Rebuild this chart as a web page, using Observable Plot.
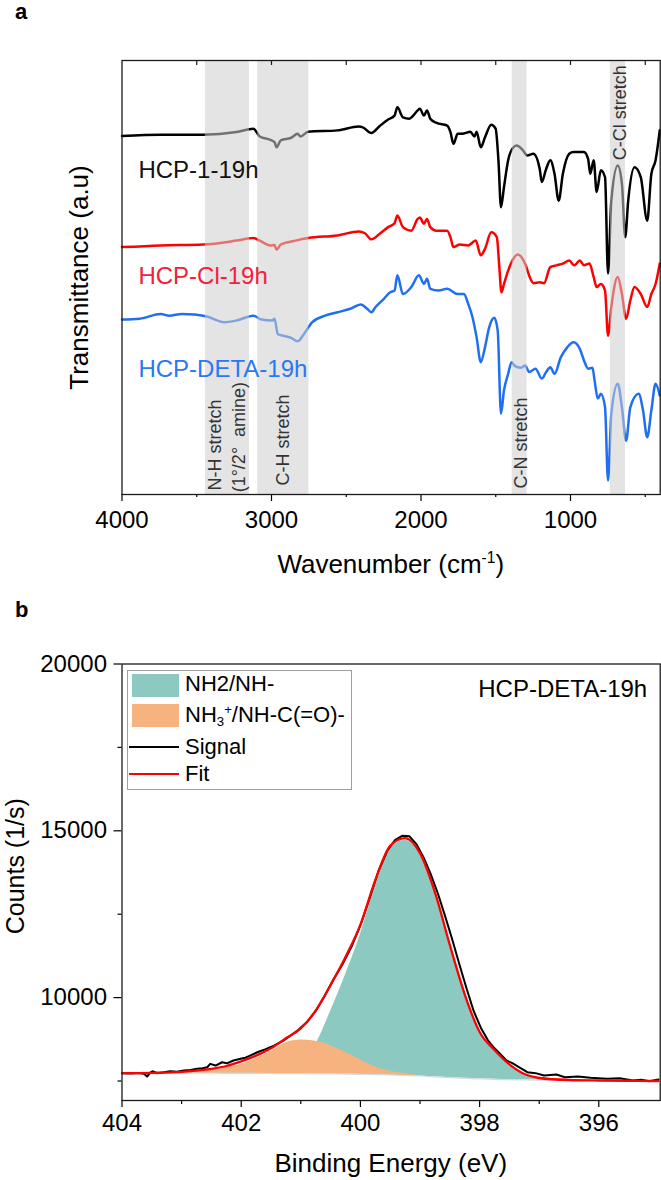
<!DOCTYPE html>
<html>
<head>
<meta charset="utf-8">
<script src="https://cdn.jsdelivr.net/npm/d3@7"></script>
<script src="https://cdn.jsdelivr.net/npm/@observablehq/plot@0.6"></script>
<style>
  body { margin: 0; background: #fff; }
  #fig { position: relative; width: 661px; height: 1180px; overflow: hidden;
         font-family: "Liberation Sans", Arial, Helvetica, sans-serif; color: #000; }
  #fig svg { position: absolute; left: 0; }
  .lbl { position: absolute; white-space: nowrap; line-height: 1; }
  .lbl sup { font-size: 0.6em; line-height: 0; vertical-align: baseline; position: relative; top: -0.65em; }
  .lbl sub { font-size: 0.6em; line-height: 0; vertical-align: baseline; position: relative; top: 0.3em; }
</style>
</head>
<body>
<div id="fig"></div>
<script>
// ---------- (a) FTIR spectra: wavenumber (cm-1) vs transmittance (a.u., offset traces) ----------
const hcp1Wn = [4000,3741,3459,3234,3121,3079,3008,2980,2966,2938,2868,2825,2806,2755,2558,2417,2389,2332,2276,2220,2177,2158,2121,2079,2022,2008,1980,1960,1938,1896,1825,1803,1783,1755,1713,1670,1642,1628,1600,1572,1530,1501,1482,1465,1445,1417,1389,1361,1318,1290,1248,1206,1192,1163,1135,1107,1079,1051,1008,980,910,882,868,845,825,797,769,749,727,684,656,634,614,572,530,487,459,431,403];
const hcp1T  = [82.6,82.9,82.9,83.5,84.3,82.5,81.7,81.2,80.0,81.6,82.2,83.1,82.5,83.6,83.9,84.8,84.6,83.3,84.9,86.4,87.3,89.2,86.9,86.6,88.5,88.9,87.3,88.5,86.6,85.6,85.0,83.5,80.8,83.1,83.2,83.6,82.5,83.6,80.0,82.3,85.2,84.3,77.0,66.2,70.8,77.0,79.7,80.4,79.3,78.1,78.5,75.0,72.0,75.0,77.0,73.9,67.7,73.9,78.5,78.9,78.9,77.3,73.9,77.0,69.7,74.7,73.1,50.9,67.7,75.8,71.6,59.3,67.7,75.4,73.1,63.1,73.9,77.0,83.9];

const hcpClWn = [4000,3741,3459,3234,3121,3079,3008,2980,2966,2938,2839,2755,2558,2417,2375,2332,2276,2220,2177,2158,2121,2065,2022,2008,1980,1960,1938,1896,1825,1803,1783,1741,1684,1634,1600,1572,1530,1493,1476,1462,1445,1417,1389,1352,1304,1268,1248,1206,1177,1135,1093,1051,1008,975,938,910,873,845,825,797,769,749,727,684,656,628,600,572,530,487,459,431,403];
const hcpClT  = [57.0,57.4,57.6,58.5,59.1,58.5,57.4,57.5,56.4,57.6,58.5,59.1,59.7,60.6,60.2,58.8,60.1,61.6,62.5,64.3,61.6,60.8,63.5,63.8,62.4,63.5,61.6,60.8,60.8,59.3,57.0,57.6,57.4,58.5,55.1,56.6,60.4,59.3,52.4,46.6,48.5,51.6,53.9,55.3,53.2,49.7,48.7,48.9,48.7,52.4,52.8,53.2,53.9,52.8,53.9,52.8,53.2,50.1,47.8,48.5,47.0,36.6,43.2,50.1,46.2,40.5,44.7,47.8,46.2,43.2,46.2,48.5,53.2];

const hcpDetaWn = [4000,3882,3741,3684,3600,3515,3431,3318,3234,3121,3065,2994,2980,2958,2924,2868,2825,2783,2727,2642,2558,2473,2403,2360,2332,2304,2248,2206,2177,2158,2121,2065,2014,1980,1960,1938,1882,1825,1755,1713,1684,1656,1628,1600,1572,1544,1510,1487,1465,1445,1417,1394,1375,1332,1304,1276,1234,1192,1163,1135,1107,1065,1022,980,938,910,882,853,839,817,797,769,749,727,684,656,628,600,544,515,487,459,431,403];
const hcpDetaT  = [40.3,40.5,41.6,41.2,41.6,41.5,41.0,39.7,40.1,41.2,40.3,40.1,40.5,37.0,36.6,36.1,35.3,37.0,39.7,41.2,42.0,42.8,43.8,42.8,42.0,43.2,45.1,46.6,47.0,50.5,46.2,47.8,50.5,48.5,49.7,47.4,47.0,47.4,46.2,46.2,43.9,40.9,36.2,30.5,33.9,38.5,40.7,37.8,18.6,24.0,27.8,30.5,29.7,29.2,29.7,28.2,29.0,26.7,28.2,29.3,27.8,31.6,33.9,35.1,33.6,30.9,29.0,29.2,26.3,22.1,23.2,20.1,3.2,18.6,25.5,20.1,12.4,20.1,23.2,19.4,13.2,19.4,25.5,22.8];

const irSeriesNames = ["HCP-1-19h", "HCP-Cl-19h", "HCP-DETA-19h"];

// shaded absorption regions (cm-1) and their captions
const bandFrom = [3442, 3092, 1390, 733];
const bandTo   = [3148, 2750, 1290, 632];
const noteText = ["N-H stretch", "(1°/2°  amine)", "C-H stretch", "C-N stretch", "C-Cl stretch"];
const noteWn   = [3338, 3177, 2886, 1288, 632];
const noteT    = [0.9, 0.5, 2.1, 1.4, 77.0];

const irMajorTicks = [4000, 3000, 2000, 1000];
const irMinorTicks = [3500, 2500, 1500, 500];

// ---------- (b) XPS N 1s of HCP-DETA-19h: binding energy (eV) vs counts (1/s) ----------
const beGrid   = [404,403.5,403,402.5,402.25,402,401.75,401.5,401.25,401,400.75,400.5,400.25,400,399.75,399.5,399.25,399,398.75,398.5,398.25,398,397.75,397.5,397.25,397,396.5,396,395.5,395];
const bgCounts = [7735,7735,7735,7733,7731,7730,7728,7725,7722,7720,7717,7712,7707,7700,7692,7680,7666,7650,7625,7600,7580,7565,7550,7540,7530,7524,7515,7510,7505,7500];
const nh2Counts = [7736,7736,7737,7745,7755,7770,7790,7815,7850,8070,8600,9590,10685,11890,13340,14440,14720,14320,13150,11570,10090,8960,8420,7990,7705,7588,7528,7513,7506,7500];
const nh3Counts = [7736,7745,7768,7840,7910,8000,8180,8390,8650,8730,8690,8560,8360,8130,7920,7790,7725,7660,7625,7600,7582,7565,7550,7540,7532,7525,7515,7510,7505,7500];
const fitCounts = [7735,7745,7775,7865,7950,8090,8260,8480,8780,9080,9610,10380,11220,12180,13520,14550,14780,14330,13160,11580,10100,8970,8430,8000,7710,7590,7530,7515,7508,7500];

const signalBe = [404.00,403.85,403.72,403.63,403.58,403.52,403.49,403.41,403.30,403.19,403.08,402.96,402.85,402.74,402.65,402.57,402.52,402.43,402.32,402.24,402.13,402.01,401.93,401.85,401.73,401.60,401.45,401.30,401.18,401.05,400.90,400.75,400.60,400.45,400.30,400.15,400.00,399.85,399.70,399.55,399.42,399.30,399.18,399.06,398.94,398.82,398.70,398.58,398.46,398.34,398.22,398.10,397.98,397.86,397.75,397.65,397.55,397.45,397.34,397.20,397.06,396.92,396.71,396.57,396.35,396.14,395.86,395.65,395.43,395.29,395.15,395.00];
const signalCounts = [7734,7725,7740,7716,7635,7760,7793,7734,7760,7793,7780,7814,7830,7865,7880,7913,8015,7964,8063,8030,8114,8165,8200,8263,8362,8450,8560,8700,8850,9020,9260,9600,10050,10550,11000,11520,12170,12950,13780,14400,14720,14850,14840,14600,14200,13700,13120,12450,11750,11000,10280,9600,9100,8720,8480,8300,8114,8034,7914,7766,7736,7665,7695,7615,7635,7595,7565,7585,7515,7535,7494,7545];

const xpsMajorTicks = [404, 402, 400, 398, 396];
const xpsMinorTicks = [403, 401, 399, 397];
const countMajorTicks = [10000, 15000, 20000];
const countMinorTicks = [7500, 12500, 17500];

// ---------- drawing ----------
const FONT = '"Liberation Sans", Arial, Helvetica, sans-serif';
const fig = document.getElementById("fig");
const plain = d => String(d);
const blank = () => "";

const toRows = (xs, ys) => xs.map((x, i) => ({x, y: ys[i]}));
const irColors = ["#000000", "#ff0000", "#1f6ff0"];
const irLabelColors = ["#111111", "#f2213b", "#2a78f2"];
const irLabelT = [73.0, 48.6, 27.0];
const irSeries = [
  toRows(hcp1Wn, hcp1T),
  toRows(hcpClWn, hcpClT),
  toRows(hcpDetaWn, hcpDetaT)
];
const bands = bandFrom.map((f, i) => ({from: f, to: bandTo[i]}));
const notes = noteText.map((s, i) => ({s, w: noteWn[i], t: noteT[i]}));
const seriesLabels = irSeriesNames.map((s, i) => ({s, w: 3890, t: irLabelT[i], c: irLabelColors[i]}));

const chartA = Plot.plot({
  width: 661, height: 600,
  marginTop: 60, marginBottom: 106, marginLeft: 121.5, marginRight: 1.3,
  style: {fontFamily: FONT, fontSize: "24px", color: "#000", background: "transparent", overflow: "visible"},
  x: {domain: [4000, 400], label: null},
  y: {domain: [0, 100], axis: null},
  marks: [
    ...irSeries.map((rows, i) => Plot.line(rows, {x: "x", y: "y", stroke: irColors[i], strokeWidth: 2.5, curve: "monotone-x"})),
    Plot.rect(bands, {x1: "from", x2: "to", fill: "#cdcdcd", fillOpacity: 0.55}),
    Plot.text(seriesLabels, {x: "w", y: "t", text: "s", fill: "c", textAnchor: "start", lineAnchor: "bottom", fontSize: 24}),
    Plot.text(notes, {x: "w", y: "t", text: "s", rotate: -90, textAnchor: "start", lineAnchor: "bottom", fontSize: 18, fill: "#333"}),
    Plot.text(["Transmittance (a.u)"], {frameAnchor: "left", rotate: -90, textAnchor: "middle", dx: -42, fontSize: 26}),
    Plot.ruleX(irMajorTicks.slice(1).concat(irMinorTicks), {stroke: "#1a1a1a", strokeWidth: 1.2, insetBottom: 429}),
    Plot.axisX({ticks: irMajorTicks, tickSize: 7, tickPadding: 9, tickFormat: plain, label: null, fontSize: 24, strokeWidth: 1.2}),
    Plot.axisX({ticks: irMinorTicks, tickSize: 3, tickFormat: blank, label: null, strokeWidth: 1.2}),
    Plot.frame({stroke: "#1a1a1a", strokeWidth: 1.3})
  ]
});
chartA.style.top = "0px";
fig.appendChild(chartA);

const xps = beGrid.map((e, i) => ({e, base: bgCounts[i], nh2: nh2Counts[i], nh3: nh3Counts[i], fit: fitCounts[i]}));
const signal = toRows(signalBe, signalCounts);

const chartB = Plot.plot({
  width: 661, height: 580,
  marginTop: 63.5, marginBottom: 80, marginLeft: 121.5, marginRight: 1.3,
  style: {fontFamily: FONT, fontSize: "24px", color: "#000", background: "transparent", overflow: "visible"},
  x: {domain: [404, 394.97], label: null},
  y: {domain: [6916, 20000], label: null},
  marks: [
    Plot.areaY(xps, {x: "e", y1: "base", y2: "nh2", fill: "#8cc9c1", curve: "monotone-x"}),
    Plot.areaY(xps, {x: "e", y1: "base", y2: "nh3", fill: "#f6b27f", curve: "monotone-x"}),
    Plot.line(xps, {x: "e", y: "base", stroke: "#d5dbe3", strokeWidth: 1.2, curve: "monotone-x"}),
    Plot.line(signal, {x: "x", y: "y", stroke: "#000", strokeWidth: 2}),
    Plot.line(xps, {x: "e", y: "fit", stroke: "#ff0000", strokeWidth: 2.3, curve: "monotone-x"}),
    Plot.text(["HCP-DETA-19h"], {frameAnchor: "top-right", dx: -13, dy: 33, textAnchor: "end", lineAnchor: "bottom", fontSize: 24}),
    Plot.text(["Counts (1/s)"], {frameAnchor: "left", rotate: -90, textAnchor: "middle", dx: -106.5, dy: -16, fontSize: 25}),
    Plot.axisX({ticks: xpsMajorTicks, tickSize: 7, tickPadding: 6, tickFormat: plain, label: null, fontSize: 24, strokeWidth: 1.2}),
    Plot.axisX({ticks: xpsMinorTicks, tickSize: 4, tickFormat: blank, label: null, strokeWidth: 1.2}),
    Plot.axisY({ticks: countMajorTicks, tickSize: 8, tickPadding: 7, tickFormat: plain, label: null, fontSize: 24, strokeWidth: 1.2}),
    Plot.axisY({ticks: countMinorTicks, tickSize: 4, tickFormat: blank, label: null, strokeWidth: 1.2}),
    Plot.frame({stroke: "#1a1a1a", strokeWidth: 1.3})
  ]
});
chartB.style.top = "600px";
fig.appendChild(chartB);

// ---------- panel letters, axis titles and legend ----------
function addText(html, css) {
  const el = document.createElement("div");
  el.className = "lbl";
  el.innerHTML = html;
  Object.assign(el.style, css);
  fig.appendChild(el);
  return el;
}
function addBox(css) {
  const el = document.createElement("div");
  el.style.position = "absolute";
  Object.assign(el.style, css);
  fig.appendChild(el);
  return el;
}

addText("a", {left: "15px", top: "1px", fontSize: "22px", lineHeight: "22px", fontWeight: "bold"});
addText("b", {left: "15px", top: "599px", fontSize: "22px", lineHeight: "22px", fontWeight: "bold"});
addText("Wavenumber (cm<sup>-1</sup>)", {left: "121.5px", width: "538.5px", textAlign: "center", top: "551px", fontSize: "26px", lineHeight: "26px"});
addText("Binding Energy (eV)", {left: "121.5px", width: "538.5px", textAlign: "center", top: "1150px", fontSize: "26px", lineHeight: "26px"});

// legend of the XPS fit
addBox({left: "127px", top: "670px", width: "225px", height: "120px", border: "1px solid #a0a0a0", boxSizing: "border-box"});
addBox({left: "131.5px", top: "674px", width: "47.5px", height: "23px", background: "#8cc9c1"});
addBox({left: "131.5px", top: "704px", width: "47.5px", height: "23px", background: "#f6b27f"});
addBox({left: "129px", top: "745.5px", width: "50px", height: "2.2px", background: "#000"});
addBox({left: "129px", top: "772.8px", width: "50px", height: "2.5px", background: "#ff0000"});
const legendLines = ["NH2/NH-", "NH<sub>3</sub><sup>+</sup>/NH-C(=O)-", "Signal", "Fit"];
const legendTop = [673.4, 704.4, 736.4, 763.4];
legendLines.forEach((t, i) => addText(t, {left: "185px", top: legendTop[i] + "px", fontSize: "22px", lineHeight: "22px"}));
</script>
</body>
</html>
